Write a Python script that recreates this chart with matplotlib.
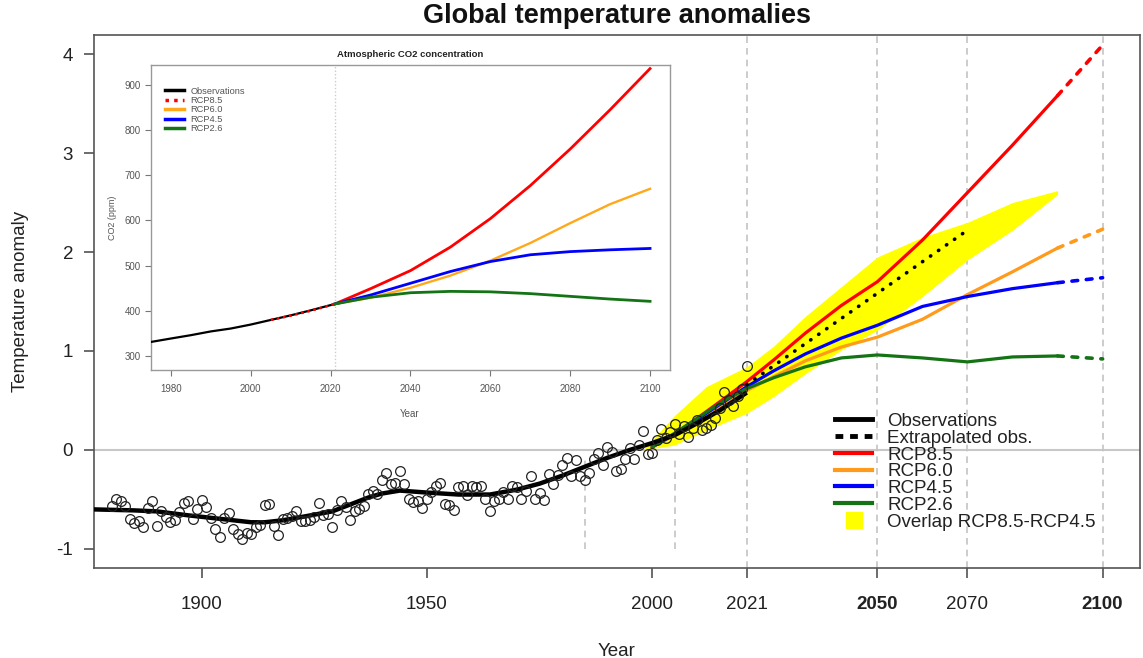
import matplotlib
matplotlib.use("Agg")
import matplotlib.pyplot as plt
from matplotlib.lines import Line2D

plt.rcParams['font.family'] = ['Liberation Sans', 'DejaVu Sans']
plt.rcParams['axes.unicode_minus'] = False

# ---------------- data: main panel ----------------
obs_years = list(range(1880, 2022))
obs_vals = [
    -0.57, -0.49, -0.52, -0.57, -0.70, -0.74, -0.72, -0.78, -0.59, -0.52,
    -0.77, -0.62, -0.68, -0.73, -0.71, -0.63, -0.54, -0.52, -0.70, -0.60,
    -0.51, -0.58, -0.69, -0.80, -0.88, -0.69, -0.64, -0.80, -0.85, -0.90,
    -0.84, -0.85, -0.78, -0.76, -0.56, -0.55, -0.77, -0.86, -0.70, -0.69,
    -0.67, -0.62, -0.72, -0.72, -0.71, -0.68, -0.54, -0.66, -0.65, -0.78,
    -0.61, -0.52, -0.58, -0.71, -0.62, -0.60, -0.57, -0.44, -0.41, -0.44,
    -0.30, -0.23, -0.34, -0.33, -0.21, -0.34, -0.49, -0.53, -0.52, -0.59,
    -0.49, -0.42, -0.36, -0.33, -0.55, -0.56, -0.61, -0.37, -0.36, -0.45,
    -0.36, -0.37, -0.36, -0.50, -0.62, -0.52, -0.49, -0.42, -0.49, -0.36,
    -0.37, -0.50, -0.41, -0.26, -0.49, -0.43, -0.51, -0.24, -0.34, -0.25,
    -0.15, -0.08, -0.26, -0.10, -0.26, -0.30, -0.23, -0.09, -0.03, -0.15,
    0.03, -0.02, -0.21, -0.19, -0.09, 0.02, -0.09, 0.05, 0.19, -0.04,
    -0.03, 0.10, 0.21, 0.12, 0.18, 0.26, 0.16, 0.24, 0.13, 0.22,
    0.30, 0.20, 0.22, 0.25, 0.32, 0.42, 0.59, 0.50, 0.44, 0.55,
    0.62, 0.85,
]

smooth_years = [1876, 1885, 1890, 1897, 1905, 1911, 1914, 1918, 1923, 1929,
                1933, 1937, 1940, 1944, 1950, 1957, 1964, 1970, 1975, 1980,
                1985, 1990, 1995, 2000, 2005, 2010, 2015, 2021]
smooth_vals = [-0.60, -0.61, -0.62, -0.66, -0.70, -0.73, -0.73, -0.71, -0.67, -0.62,
               -0.55, -0.48, -0.44, -0.41, -0.43, -0.45, -0.45, -0.40, -0.34, -0.26,
               -0.17, -0.08, 0.00, 0.07, 0.15, 0.27, 0.40, 0.58]

extrap_years = [2021, 2070]
extrap_vals = [0.66, 2.22]

rcp_years = [2000, 2005, 2010, 2016, 2021, 2027, 2034, 2042, 2050, 2060, 2070, 2080, 2090, 2100]
rcp85 = [0.03, 0.16, 0.32, 0.52, 0.69, 0.91, 1.18, 1.46, 1.70, 2.12, 2.60, 3.08, 3.58, 4.09]
rcp60 = [0.03, 0.15, 0.30, 0.47, 0.60, 0.74, 0.90, 1.04, 1.14, 1.32, 1.57, 1.80, 2.04, 2.23]
rcp45 = [0.03, 0.16, 0.31, 0.49, 0.64, 0.80, 0.97, 1.13, 1.26, 1.45, 1.55, 1.63, 1.69, 1.74]
rcp26 = [0.03, 0.17, 0.32, 0.50, 0.62, 0.73, 0.84, 0.93, 0.96, 0.93, 0.89, 0.94, 0.95, 0.92]

band_years = [1998, 2005, 2012, 2021, 2027, 2034, 2042, 2050, 2060, 2070, 2080, 2090]
band_upper = [0.00, 0.35, 0.64, 0.84, 1.05, 1.35, 1.65, 1.95, 2.15, 2.30, 2.50, 2.62]
band_lower = [0.00, 0.05, 0.20, 0.37, 0.54, 0.77, 1.01, 1.21, 1.55, 1.92, 2.22, 2.58]

xtick_years = [1900, 1950, 2000, 2021, 2050, 2070, 2100]
bold_ticks = [2050, 2100]
ytick_vals = [-1, 0, 1, 2, 3, 4]
ref_full = [2021, 2050, 2070, 2100]
ref_short = [1985, 2005]

legend_labels = ["Observations", "Extrapolated obs.", "RCP8.5", "RCP6.0",
                 "RCP4.5", "RCP2.6", "Overlap RCP8.5-RCP4.5"]

# ---------------- data: inset ----------------
co2_obs_years = [1975, 1980, 1985, 1990, 1995, 2000, 2005, 2010, 2015, 2021]
co2_obs = [331.1, 338.7, 346.1, 354.4, 360.8, 369.6, 379.8, 389.9, 401.0, 415.0]
co2_hist85_years = [2005, 2010, 2015, 2021]
co2_hist85 = [379.8, 389.3, 400.1, 415.0]
co2_years = [2021, 2030, 2040, 2050, 2060, 2070, 2080, 2090, 2100]
co2_rcp85 = [415, 449, 489, 541, 604, 677, 758, 845, 936]
co2_rcp60 = [415, 429, 451, 478, 511, 550, 594, 636, 670]
co2_rcp45 = [415, 435, 461, 487, 509, 524, 531, 535, 538]
co2_rcp26 = [415, 430, 440, 443, 442, 438, 432, 426, 421]
inset_labels = ["Observations", "RCP8.5", "RCP6.0", "RCP4.5", "RCP2.6"]

C_RED = "#ff0000"
C_ORANGE = "#ff9a1a"
C_BLUE = "#0000ff"
C_GREEN = "#147314"
C_YELLOW = "#ffff00"

W, H = 1143, 658
fig = plt.figure(figsize=(W / 100, H / 100), dpi=100)

# main axes: left 94, right 1140, top 35, bottom 568 (pixels)
ax = fig.add_axes([94 / W, 1 - 568 / H, (1140 - 94) / W, (568 - 35) / H])
ax.set_xlim(1876.1, 2108.3)
ax.set_ylim(-1.192, 4.192)

ax.axhline(0, color="#c8c8c8", lw=1.5, zorder=0)
for yr in ref_full:
    ax.axvline(yr, color="#c4c4c4", lw=1.2, ls=(0, (4, 3)), zorder=0)
ax.vlines(ref_short, -1.0, -0.08, colors="#c4c4c4", lw=1.2, linestyles=[(0, (4, 3))], zorder=0)

ax.fill_between(band_years, band_lower, band_upper, color=C_YELLOW, lw=0, zorder=1)

n_solid = rcp_years.index(2090) + 1
dotted = (0, (1.6, 2.4))
for vals, col in [(rcp85, C_RED), (rcp60, C_ORANGE), (rcp45, C_BLUE), (rcp26, C_GREEN)]:
    ax.plot(rcp_years[:n_solid], vals[:n_solid], color=col, lw=2.3, zorder=3,
            solid_capstyle="round")
    ax.plot(rcp_years[n_solid - 1:], vals[n_solid - 1:], color=col, lw=2.6, ls=dotted,
            zorder=3, dash_capstyle="round")

ax.plot(extrap_years, extrap_vals, color="black", lw=2.6, ls=(0, (0.1, 2.6)),
        dash_capstyle="round", zorder=4)
ax.plot(smooth_years, smooth_vals, color="black", lw=3.2, zorder=4, solid_capstyle="butt")
ax.plot(obs_years, obs_vals, ls="none", marker="o", ms=7, mfc="none", mec="#222222",
        mew=0.9, zorder=5)

ax.set_xticks(xtick_years)
ax.set_xticklabels([str(y) for y in xtick_years])
for lab, yr in zip(ax.get_xticklabels(), xtick_years):
    if yr in bold_ticks:
        lab.set_fontweight("bold")
ax.set_yticks(ytick_vals)
ax.set_yticklabels([str(v) for v in ytick_vals])
ax.tick_params(axis="both", labelsize=13.5, length=7.5, width=1.1, color="#444444",
               labelcolor="#222222")
ax.tick_params(axis="x", pad=13)
ax.tick_params(axis="y", pad=7.5)
for s in ax.spines.values():
    s.set_color("#555555")
    s.set_linewidth(1.2)

ax.set_xlabel("Year", fontsize=13.5, color="#222222")
ax.xaxis.set_label_coords(0.5, -0.14)
ax.set_ylabel("Temperature anomaly", fontsize=13.5, color="#222222")
ax.yaxis.set_label_coords(-0.0617, 0.5)
ax.text(0.5, (568 - 16) / 533, "Global temperature anomalies", transform=ax.transAxes,
        ha="center", va="center", fontsize=19.5, fontweight="bold", color="#111111")

handles = [
    Line2D([], [], color="black", lw=3.5),
    Line2D([], [], color="black", lw=3.5, ls=(0, (1.6, 1.4))),
    Line2D([], [], color=C_RED, lw=3),
    Line2D([], [], color=C_ORANGE, lw=3),
    Line2D([], [], color=C_BLUE, lw=3),
    Line2D([], [], color=C_GREEN, lw=3),
    Line2D([], [], color=C_YELLOW, ls="none", marker="s", ms=12, mec=C_YELLOW),
]
leg = ax.legend(handles, legend_labels, loc="upper left", bbox_to_anchor=(0.7084, 0.291),
                frameon=False, fontsize=13.5, handlelength=2.0, handletextpad=0.8,
                labelspacing=-0.02, borderpad=0, borderaxespad=0)
for t in leg.get_texts():
    t.set_color("#222222")
leg.set_zorder(6)

# ---------------- inset ----------------
L, R, T, B = 151, 670, 65, 370
axi = fig.add_axes([L / W, 1 - B / H, (R - L) / W, (B - T) / H])
axi.set_facecolor("white")
axi.set_xlim(1975, 2105)
axi.set_ylim(269, 944)
axi.axvline(2021, color="#cccccc", lw=1.0, ls=(0, (1, 1.5)), zorder=0)
axi.plot(co2_obs_years, co2_obs, color="black", lw=1.6, zorder=3)
axi.plot(co2_hist85_years, co2_hist85, color=C_RED, lw=1.8, ls=(0, (1, 1.5)), zorder=4)
axi.plot(co2_years, co2_rcp85, color=C_RED, lw=2.0, zorder=3)
axi.plot(co2_years, co2_rcp60, color="#ffa91a", lw=1.7, zorder=3)
axi.plot(co2_years, co2_rcp45, color=C_BLUE, lw=2.0, zorder=3)
axi.plot(co2_years, co2_rcp26, color=C_GREEN, lw=2.0, zorder=3)

axi.set_xticks(list(range(1980, 2101, 20)))
axi.set_yticks(list(range(300, 901, 100)))
axi.tick_params(axis="both", labelsize=7, length=4, width=0.8, color="#777777",
                labelcolor="#555555")
axi.tick_params(axis="x", pad=6)
axi.tick_params(axis="y", pad=3.5)
for s in axi.spines.values():
    s.set_color("#999999")
    s.set_linewidth(1.0)
axi.set_xlabel("Year", fontsize=7, color="#555555")
axi.xaxis.set_label_coords(0.499, -0.128)
axi.set_ylabel("CO2 (ppm)", fontsize=6.5, color="#555555")
axi.yaxis.set_label_coords(-0.066, 0.5)
axi.text(0.499, (B - 54.5) / (B - T), "Atmospheric CO2 concentration", transform=axi.transAxes,
         ha="center", va="center", fontsize=6.8, fontweight="bold", color="#222222")

ihandles = [
    Line2D([], [], color="black", lw=2.5),
    Line2D([], [], color=C_RED, lw=2.5, ls=(0, (1, 1.5))),
    Line2D([], [], color="#ffa91a", lw=2.5),
    Line2D([], [], color=C_BLUE, lw=2.5),
    Line2D([], [], color=C_GREEN, lw=2.5),
]
ileg = axi.legend(ihandles, inset_labels, loc="upper left",
                  bbox_to_anchor=((165 - L) / (R - L), (B - 86.5) / (B - T)),
                  frameon=False, fontsize=6.7, handlelength=2.0, handletextpad=0.75,
                  labelspacing=0.05, borderpad=0, borderaxespad=0)
for t in ileg.get_texts():
    t.set_color("#555555")

fig.savefig("out.png", dpi=100)
